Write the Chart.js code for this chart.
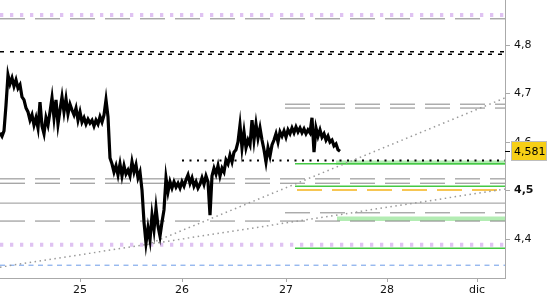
<!DOCTYPE html>
<html>
<head>
<meta charset="utf-8">
<script src="https://cdn.jsdelivr.net/npm/chart.js@4.4.0/dist/chart.umd.min.js"></script>
<style>
  html, body { margin: 0; padding: 0; background: #fff; }
  #wrap { width: 550px; height: 300px; }
</style>
</head>
<body>
<div id="wrap"><canvas id="chart" width="550" height="300"></canvas></div>
<script>
/* ── Data ── */
// intraday price, one value every 2 time slots starting at slot 0
var priceValues = [
  4.619, 4.612, 4.623, 4.676, 4.738, 4.720, 4.732, 4.715, 4.728, 4.711,
  4.718, 4.693, 4.687, 4.670, 4.662, 4.645, 4.656, 4.635, 4.650, 4.629,
  4.682, 4.633, 4.617, 4.650, 4.635, 4.662, 4.691, 4.650, 4.687, 4.637,
  4.666, 4.693, 4.662, 4.689, 4.658, 4.678, 4.666, 4.656, 4.670, 4.645,
  4.662, 4.641, 4.650, 4.637, 4.647, 4.639, 4.645, 4.633, 4.645, 4.637,
  4.652, 4.641, 4.656, 4.687, 4.652, 4.567, 4.555, 4.538, 4.551, 4.532,
  4.555, 4.530, 4.551, 4.534, 4.542, 4.530, 4.559, 4.538, 4.553, 4.526,
  4.538, 4.501, 4.435, 4.392, 4.423, 4.398, 4.449, 4.419, 4.464, 4.427,
  4.406, 4.435, 4.460, 4.526, 4.497, 4.518, 4.505, 4.518, 4.507, 4.515,
  4.505, 4.518, 4.509, 4.522, 4.532, 4.515, 4.526, 4.509, 4.518, 4.505,
  4.513, 4.526, 4.513, 4.530, 4.518, 4.449, 4.530, 4.546, 4.534, 4.551,
  4.530, 4.546, 4.538, 4.563, 4.555, 4.573, 4.559, 4.579, 4.584, 4.600,
  4.635, 4.588, 4.621, 4.588, 4.604, 4.594, 4.645, 4.604, 4.637, 4.608,
  4.629, 4.604, 4.584, 4.559, 4.588, 4.571, 4.594, 4.604, 4.617, 4.600,
  4.621, 4.612, 4.623, 4.610, 4.625, 4.617, 4.629, 4.619, 4.631, 4.621,
  4.629, 4.619, 4.627, 4.617, 4.625, 4.619, 4.650, 4.579, 4.629, 4.612,
  4.625, 4.610, 4.617, 4.604, 4.612, 4.600, 4.604, 4.592, 4.596, 4.584,
  4.581
];
var lastPrice = 4.581;

var slotMax = 505;
var xTickSlots = [80, 182, 286, 387, 477];
var xTickLabels = ['25', '26', '27', '28', 'dic'];

var yMin = 4.3196;
var yMax = 4.8928;
var yTicks = [4.4, 4.5, 4.6, 4.7, 4.8, 4.9];

// horizontal levels
var levelValues = [4.862, 4.854, 4.786, 4.781, 4.678, 4.670, 4.557, 4.562, 4.555, 4.524,
                   4.515, 4.509, 4.501, 4.474, 4.454, 4.442, 4.437, 4.388, 4.381, 4.346];
var levelFrom   = [0, 0, 0, 68, 285, 285, 336, 182, 295, 0,
                   0, 295, 297, 0, 285, 337, 0, 0, 295, 0];
var levelTo     = [505, 505, 505, 505, 505, 505, 505, 505, 505, 505,
                   505, 505, 497, 505, 505, 505, 505, 505, 505, 505];
var levelKinds  = ['purple', 'gray', 'black', 'black', 'gray', 'gray', 'band', 'dots', 'green', 'gray',
                   'gray', 'green', 'orange', 'solid', 'gray', 'band', 'gray', 'purple', 'green', 'blue'];

// trend lines: start slot/value, end slot/value
var trendStartSlot = [0, 147];
var trendStartValue = [4.342, 4.388];
var trendEndSlot = [505, 505];
var trendEndValue = [4.503, 4.691];

/* ── Styles ── */
var kindStyle = {
  purple: { color: '#dfc2f2', width: 4, dash: [3.3, 6.7] },
  gray:   { color: '#858585', width: 1, dash: [25, 10] },
  black:  { color: '#000000', width: 1.5, dash: [4, 6] },
  band:   { color: '#b3ecb3', width: 4.5, dash: [] },
  dots:   { color: '#000000', width: 2, dash: [2, 5.5] },
  green:  { color: '#44c944', width: 1.5, dash: [] },
  orange: { color: '#f4b41a', width: 1.5, dash: [25, 10] },
  solid:  { color: '#969696', width: 1, dash: [] },
  blue:   { color: '#6a9ae8', width: 1, dash: [5, 4.5] }
};

/* ── Datasets ── */
var datasets = [];

datasets.push({
  data: priceValues.map(function(v, i) { return { x: i * 2, y: v }; }),
  borderColor: '#000',
  borderWidth: 3.2,
  order: 0
});

levelValues.forEach(function(v, i) {
  var st = kindStyle[levelKinds[i]];
  datasets.push({
    data: [{ x: levelFrom[i], y: v }, { x: levelTo[i], y: v }],
    borderColor: st.color,
    borderWidth: st.width,
    borderDash: st.dash,
    borderCapStyle: 'butt',
    order: levelKinds[i] === 'band' ? 3 : 2
  });
});

trendStartSlot.forEach(function(s, i) {
  datasets.push({
    data: [{ x: s, y: trendStartValue[i] }, { x: trendEndSlot[i], y: trendEndValue[i] }],
    borderColor: '#9a9a9a',
    borderWidth: 1.5,
    borderDash: [1.5, 3.5],
    order: 1
  });
});

/* ── Last price tag ── */
var lastTag = {
  id: 'lastTag',
  afterDraw: function(chart) {
    var c = chart.ctx;
    var y = Math.round(chart.scales.y.getPixelForValue(lastPrice));
    var x0 = chart.chartArea.right;
    c.save();
    c.strokeStyle = '#000';
    c.lineWidth = 1;
    c.beginPath();
    c.moveTo(x0, y + 0.5);
    c.lineTo(x0 + 5, y + 0.5);
    c.stroke();
    c.fillStyle = '#f6cf16';
    c.fillRect(x0 + 6, y - 10, 36, 20);
    c.strokeStyle = '#bdbdbd';
    c.strokeRect(x0 + 6.5, y - 9.5, 35, 19);
    c.fillStyle = '#000';
    c.font = '11px "DejaVu Sans"';
    c.textBaseline = 'middle';
    c.fillText(lastPrice.toFixed(3).replace('.', ','), x0 + 9, y + 1);
    c.restore();
  }
};

new Chart(document.getElementById('chart'), {
  type: 'line',
  data: { datasets: datasets },
  options: {
    responsive: false,
    animation: false,
    layout: { padding: 0 },
    plugins: { legend: { display: false }, tooltip: { enabled: false } },
    elements: { point: { radius: 0 }, line: { tension: 0, fill: false } },
    scales: {
      x: {
        type: 'linear',
        min: 0,
        max: slotMax,
        afterBuildTicks: function(s) { s.ticks = xTickSlots.map(function(v) { return { value: v }; }); },
        afterFit: function(s) { s.height = 22; s.paddingLeft = 0; s.paddingRight = 0; },
        ticks: {
          autoSkip: false, maxRotation: 0, minRotation: 0, padding: 2,
          color: '#111',
          font: { family: 'DejaVu Sans', size: 11 },
          callback: function(v) { return xTickLabels[xTickSlots.indexOf(v)]; }
        },
        grid: { drawOnChartArea: false, tickLength: 4, color: '#aaa' },
        border: { color: '#aaa' }
      },
      y: {
        position: 'right',
        min: yMin,
        max: yMax,
        afterBuildTicks: function(s) { s.ticks = yTicks.map(function(v) { return { value: v }; }); },
        afterFit: function(s) { s.width = 45; s.paddingTop = 0; s.paddingBottom = 0; },
        ticks: {
          padding: 4,
          color: '#111',
          font: function(ctx) {
            var bold = ctx.tick && Math.abs(ctx.tick.value - 4.5) < 1e-6;
            return { family: 'DejaVu Sans', size: 11, weight: bold ? 'bold' : 'normal' };
          },
          callback: function(v) { return v.toFixed(1).replace('.', ','); }
        },
        grid: { drawOnChartArea: false, tickLength: 5, color: '#aaa' },
        border: { color: '#aaa' }
      }
    }
  },
  plugins: [lastTag]
});
</script>
</body>
</html>
